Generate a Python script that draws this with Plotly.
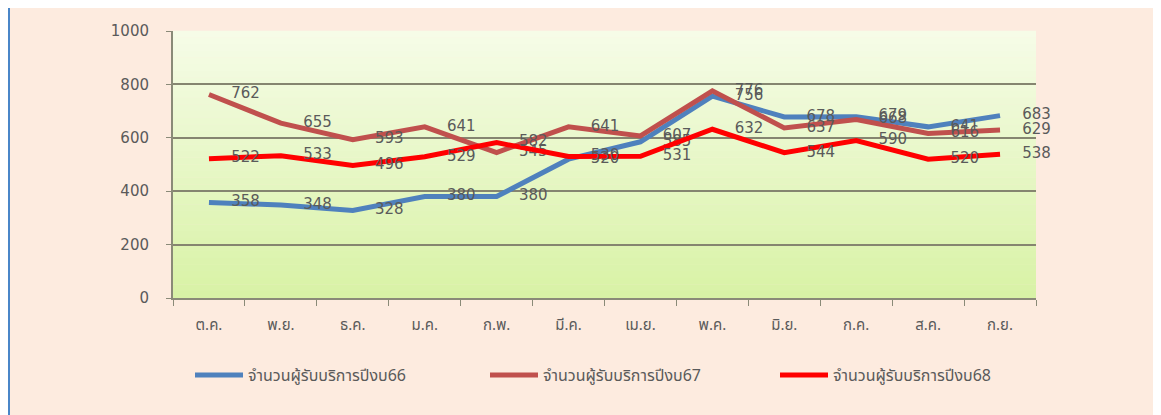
import plotly.graph_objects as go

months = ["ต.ค.", "พ.ย.", "ธ.ค.", "ม.ค.", "ก.พ.", "มี.ค.", "เม.ย.", "พ.ค.", "มิ.ย.", "ก.ค.", "ส.ค.", "ก.ย."]
series_names = ["จำนวนผู้รับบริการปีงบ66", "จำนวนผู้รับบริการปีงบ67", "จำนวนผู้รับบริการปีงบ68"]
values_66 = [358, 348, 328, 380, 380, 520, 585, 756, 678, 679, 641, 683]
values_67 = [762, 655, 593, 641, 545, 641, 607, 776, 637, 668, 616, 629]
values_68 = [522, 533, 496, 529, 582, 530, 531, 632, 544, 590, 520, 538]
y_ticks = [0, 200, 400, 600, 800, 1000]

colors = ["#4F81BD", "#C0504D", "#FF0000"]
OFF = 8  # page body margin
W, H = 1161 - OFF, 415 - OFF
L, R, T, B = 173 - OFF, 125, 31 - OFF, 117
pw, ph = W - L - R, H - T - B

FONT = "Noto Sans Thai, Tahoma, DejaVu Sans, sans-serif"
NUMFONT = "DejaVu Sans, sans-serif"
fig = go.Figure()
legends = ["legend", "legend2", "legend3"]
for i, (name, vals) in enumerate(zip(series_names, [values_66, values_67, values_68])):
    fig.add_trace(go.Scatter(
        x=months, y=vals, name=name, mode="lines+markers+text",
        line=dict(color=colors[i], width=5),
        marker=dict(size=34, color="rgba(0,0,0,0)", line=dict(width=0)),
        text=[str(v) for v in vals], textposition="middle right",
        textfont=dict(size=15, color="#5a5a5a", family=NUMFONT),
        legend=legends[i], cliponaxis=False,
    ))

# plot-area gradient (light yellow at top to light green at bottom)
n = 40
top = (246, 252, 232)
bot = (216, 242, 165)
shapes = []
for k in range(n):
    t = (k + 0.5) / n
    c = tuple(int(round(top[j] + (bot[j] - top[j]) * t)) for j in range(3))
    shapes.append(dict(type="rect", xref="paper", yref="paper", layer="below",
                       x0=0, x1=1, y0=1 - (k + 1) / n, y1=1 - k / n + 0.001,
                       line=dict(width=0), fillcolor="rgb(%d,%d,%d)" % c))
# window frame
shapes.append(dict(type="line", xref="paper", yref="paper", x0=-L / pw, x1=(W - L) / pw,
                   y0=(H - T - 1.5) / ph, y1=(H - T - 1.5) / ph, line=dict(color="#2E6DB4", width=3)))
shapes.append(dict(type="line", xref="paper", yref="paper", x0=(-L + 1) / pw, x1=(-L + 1) / pw,
                   y0=-B / ph, y1=(H - T) / ph, line=dict(color="#4A86C8", width=2)))

leg_common = dict(orientation="h", yanchor="middle", bgcolor="rgba(0,0,0,0)", itemwidth=48,
                  font=dict(size=16, color="#5a5a5a", family=FONT), xanchor="left")
fig.update_layout(
    width=W, height=H,
    margin=dict(l=L, r=R, t=T, b=B),
    paper_bgcolor="#FDEBDF",
    plot_bgcolor="rgba(0,0,0,0)",
    showlegend=True,
    shapes=shapes,
    legend=dict(x=(190 - 173) / pw, y=(298 - 375) / ph, **leg_common),
    legend2=dict(x=(485 - 173) / pw, y=(298 - 375) / ph, **leg_common),
    legend3=dict(x=(775 - 173) / pw, y=(298 - 375) / ph, **leg_common),
    xaxis=dict(
        type="category", tickson="boundaries", ticks="outside", ticklen=6, tickcolor="#8a8a78",
        showline=True, linecolor="#8a8a78", linewidth=2, showgrid=False,
        tickfont=dict(size=15, color="#5a5a5a", family=FONT), ticklabelstandoff=12,
        range=[-0.5, 11.5],
    ),
    yaxis=dict(
        range=[0, 1000], tickvals=y_ticks, ticks="outside", ticklen=5, tickcolor="#8a8a78",
        showline=True, linecolor="#8a8a78", linewidth=2,
        showgrid=True, gridcolor="#858570", gridwidth=1.6, zeroline=False,
        tickfont=dict(size=15, color="#5a5a5a", family=NUMFONT),
        ticklabelstandoff=14,
    ),
)
fig.write_html("out.html")
